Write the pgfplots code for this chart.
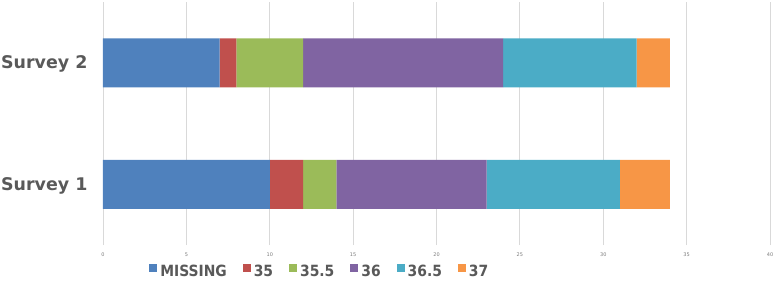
\documentclass[border=0pt]{standalone}
\usepackage{fontspec}
\setmainfont{DejaVu Sans}
\newfontfamily\condfont{DejaVu Sans Condensed}
\usepackage{pgfplots}
\pgfplotsset{compat=1.18}
\definecolor{cMiss}{HTML}{4F81BD}
\definecolor{cA}{HTML}{C0504D}
\definecolor{cB}{HTML}{9BBB59}
\definecolor{cC}{HTML}{8064A2}
\definecolor{cD}{HTML}{4BACC6}
\definecolor{cE}{HTML}{F79646}
\definecolor{gridgray}{HTML}{D9D9D9}
\definecolor{labgray}{HTML}{595959}
\begin{document}
\begin{tikzpicture}
\useasboundingbox (-103bp,-36bp) rectangle (674bp,245bp);
\begin{axis}[
  name=ax,
  at={(0,0)}, anchor=south west,
  xbar stacked,
  width=667bp, height=243bp, scale only axis,
  xmin=0, xmax=40, ymin=-0.5, ymax=1.5,
  bar width=49bp,
  xtick={0,5,...,40},
  ytick={0,1}, yticklabels={Survey 1, Survey 2},
  xmajorgrids, major grid style={draw=gridgray, line width=0.8bp},
  axis line style={draw=none},
  major tick length=0pt,
  /pgf/number format/assume math mode=true,
  xticklabel style={font=\fontsize{5}{6}\selectfont, text=labgray!80, yshift=-4bp},
  yticklabel style={font=\fontsize{17.5}{21}\selectfont\bfseries, text=labgray, xshift=-12bp, yshift=-1.5bp},
  legend columns=-1,
  legend style={draw=none, at={(0.325,-0.108)}, anchor=center,
    font=\condfont\fontsize{15.5}{18}\selectfont\bfseries, text=labgray,
    /tikz/every even column/.append style={column sep=14bp},
    /tikz/every odd column/.append style={column sep=1bp},
    inner sep=0pt},
  legend image code/.code={\fill[#1] (0bp,-1bp) rectangle (8bp,7bp);},
]
\addplot[fill=cMiss, draw=none] coordinates {(10,0) (7,1)};
\addplot[fill=cA, draw=none] coordinates {(2,0) (1,1)};
\addplot[fill=cB, draw=none] coordinates {(2,0) (4,1)};
\addplot[fill=cC, draw=none] coordinates {(9,0) (12,1)};
\addplot[fill=cD, draw=none] coordinates {(8,0) (8,1)};
\addplot[fill=cE, draw=none] coordinates {(3,0) (2,1)};
\legend{MISSING, 35, 35.5, 36, 36.5, 37}
\end{axis}
\end{tikzpicture}
\end{document}
